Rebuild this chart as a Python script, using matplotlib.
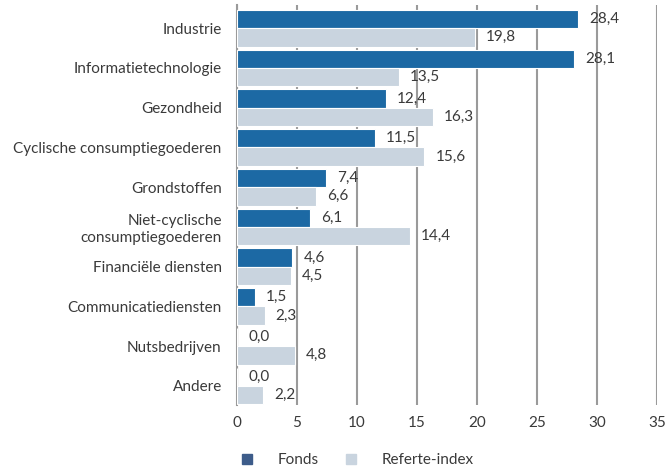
import matplotlib
matplotlib.use("Agg")
import matplotlib.pyplot as plt
from matplotlib.lines import Line2D
import numpy as np

categories = ["Industrie", "Informatietechnologie", "Gezondheid",
              "Cyclische consumptiegoederen", "Grondstoffen",
              "Niet-cyclische\nconsumptiegoederen", "Financiële diensten",
              "Communicatiediensten", "Nutsbedrijven", "Andere"]
fonds = [28.4, 28.1, 12.4, 11.5, 7.4, 6.1, 4.6, 1.5, 0.0, 0.0]
referentie = [19.8, 13.5, 16.3, 15.6, 6.6, 14.4, 4.5, 2.3, 4.8, 2.2]
series_names = ["Fonds", "Referte-index"]
xticks = [0, 5, 10, 15, 20, 25, 30, 35]

plt.rcParams['font.family'] = ['Lato', 'DejaVu Sans']
FS = 11
txt = "#3a3a3a"
c_fonds = "#1c69a4"
c_ref = "#c9d4df"

fig = plt.figure(figsize=(6.67, 4.71), dpi=100)
ax = fig.add_axes([0.3553, 0.140, 0.6297, 0.849])

y = np.arange(len(categories))
h = 0.46
ax.barh(y - h/2, fonds, height=h, color=c_fonds, edgecolor="white", linewidth=0.8, zorder=3)
ax.barh(y + h/2, referentie, height=h, color=c_ref, edgecolor="white", linewidth=0.8, zorder=3)

def fmt(v):
    return f"{v:.1f}".replace(".", ",")

for yi, v in zip(y - h/2, fonds):
    ax.annotate(fmt(v), (v, yi), xytext=(8, 0), textcoords="offset points",
                va="center", ha="left", fontsize=FS, color=txt, zorder=4)
for yi, v in zip(y + h/2, referentie):
    ax.annotate(fmt(v), (v, yi), xytext=(8, 0), textcoords="offset points",
                va="center", ha="left", fontsize=FS, color=txt, zorder=4)

ax.set_xlim(0, 35)
ax.set_ylim(9.48, -0.58)
ax.set_xticks(xticks)
ax.set_xticklabels([str(t) for t in xticks], fontsize=FS, color=txt)
ax.set_yticks(y)
ax.set_yticklabels(categories, fontsize=FS, color=txt)
ax.tick_params(axis="x", length=0, pad=8)
ax.tick_params(axis="y", length=0, pad=11)
for s in ["top", "right", "bottom"]:
    ax.spines[s].set_visible(False)
ax.spines["left"].set_color("#9a9a9a")
ax.spines["left"].set_linewidth(1.5)
ax.grid(axis="x", color="#9a9a9a", linewidth=1.5, zorder=0)
ax.set_axisbelow(True)

handles = [Line2D([], [], marker="s", linestyle="none", markersize=7, color="#3d5c8a"),
           Line2D([], [], marker="s", linestyle="none", markersize=7, color=c_ref)]
fig.legend(handles, series_names, loc="center left", bbox_to_anchor=(0.348, 0.023),
           ncol=2, frameon=False, fontsize=FS, handletextpad=1.0, columnspacing=1.1,
           borderpad=0, borderaxespad=0, labelcolor=txt)

fig.savefig("out.png", dpi=100)
